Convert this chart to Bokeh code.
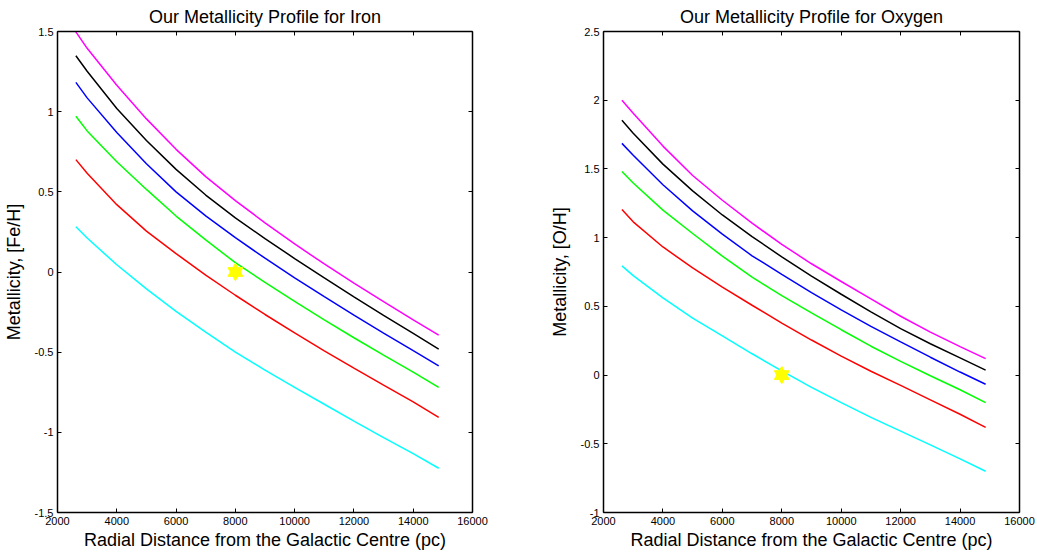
from bokeh.plotting import figure
from bokeh.models import Range1d, LinearAxis, FixedTicker
from bokeh.layouts import row
from bokeh.embed import file_html
from bokeh.resources import INLINE

# ---------------- data ----------------
radius_pc = [2620, 3000, 4000, 5000, 6000, 7000, 8000, 9000,
             10000, 11000, 12000, 13000, 14000, 14860]

fe_magenta = [1.498, 1.395, 1.165, 0.955, 0.765, 0.595, 0.445, 0.307,
              0.175, 0.050, -0.070, -0.185, -0.298, -0.394]
fe_black = [1.349, 1.252, 1.020, 0.820, 0.640, 0.480, 0.338, 0.208,
            0.084, -0.036, -0.155, -0.270, -0.383, -0.481]
fe_blue = [1.183, 1.086, 0.870, 0.675, 0.500, 0.350, 0.214, 0.086,
           -0.036, -0.154, -0.269, -0.381, -0.491, -0.585]
fe_green = [0.971, 0.880, 0.688, 0.515, 0.349, 0.200, 0.058, -0.065,
            -0.183, -0.298, -0.410, -0.518, -0.624, -0.720]
fe_red = [0.701, 0.616, 0.420, 0.255, 0.115, -0.020, -0.145, -0.265,
          -0.380, -0.492, -0.600, -0.706, -0.810, -0.907]
fe_cyan = [0.282, 0.212, 0.045, -0.105, -0.245, -0.375, -0.500, -0.612,
           -0.720, -0.825, -0.930, -1.033, -1.133, -1.224]

o_magenta = [2.000, 1.905, 1.666, 1.452, 1.272, 1.105, 0.951, 0.810,
             0.681, 0.555, 0.428, 0.313, 0.207, 0.120]
o_black = [1.854, 1.760, 1.535, 1.340, 1.165, 1.008, 0.860, 0.720,
           0.588, 0.460, 0.338, 0.228, 0.125, 0.036]
o_blue = [1.686, 1.600, 1.385, 1.195, 1.025, 0.868, 0.733, 0.600,
          0.474, 0.354, 0.241, 0.130, 0.022, -0.067]
o_green = [1.481, 1.398, 1.200, 1.030, 0.865, 0.712, 0.578, 0.453,
           0.330, 0.210, 0.100, -0.005, -0.107, -0.200]
o_red = [1.204, 1.115, 0.932, 0.780, 0.640, 0.508, 0.378, 0.255,
         0.138, 0.028, -0.075, -0.180, -0.285, -0.380]
o_cyan = [0.795, 0.724, 0.562, 0.415, 0.285, 0.155, 0.030, -0.090,
          -0.200, -0.308, -0.408, -0.508, -0.610, -0.700]

sun_r = [8000]
sun_z = [0]

x_ticks = [2000, 4000, 6000, 8000, 10000, 12000, 14000, 16000]
x_tick_labels = ["2000", "4000", "6000", "8000", "10000", "12000", "14000", "16000"]
fe_ticks = [-1.5, -1, -0.5, 0, 0.5, 1, 1.5]
fe_tick_labels = ["-1.5", "-1", "-0.5", "0", "0.5", "1", "1.5"]
o_ticks = [-1, -0.5, 0, 0.5, 1, 1.5, 2, 2.5]
o_tick_labels = ["-1", "-0.5", "0", "0.5", "1", "1.5", "2", "2.5"]

curve_colors = ["#ff00ff", "#000000", "#0000ff", "#00ff00", "#ff0000", "#00ffff"]
FONT = "Liberation Sans"


def style_main_axis(ax, ticks, labels):
    ax.ticker = FixedTicker(ticks=ticks)
    ax.major_tick_in = 4
    ax.major_tick_out = 0
    ax.minor_tick_line_color = None
    ax.axis_line_width = 1.5
    ax.axis_line_color = "black"
    ax.major_tick_line_color = "black"
    ax.major_tick_line_width = 1
    ax.major_label_overrides = {t: l for t, l in zip(ticks, labels)}
    ax.major_label_text_font = FONT
    ax.major_label_text_font_size = "11px"
    ax.major_label_text_color = "black"
    ax.major_label_standoff = 4
    ax.axis_label_text_font = FONT
    ax.axis_label_text_font_size = "18px"
    ax.axis_label_text_font_style = "normal"
    ax.axis_label_text_color = "black"


def mirror_axis(ticks):
    # box axis: tick marks only (as minor ticks, so no labels are drawn)
    ax = LinearAxis(ticker=FixedTicker(ticks=[], minor_ticks=ticks))
    ax.axis_line_width = 1.5
    ax.axis_line_color = "black"
    ax.major_tick_line_color = None
    ax.minor_tick_in = 4
    ax.minor_tick_out = 0
    ax.minor_tick_line_color = "black"
    ax.minor_tick_line_width = 1
    ax.major_label_standoff = 0
    return ax


def make_panel(title, ylabel, y_lo, y_hi, yticks, ylabels, series, width, border_right):
    p = figure(width=width, height=555, output_backend="svg", toolbar_location=None,
               x_range=Range1d(2000, 16000), y_range=Range1d(y_lo, y_hi),
               min_border_left=57, min_border_right=border_right,
               min_border_top=30, min_border_bottom=43,
               x_axis_label="Radial Distance from the Galactic Centre (pc)",
               y_axis_label=ylabel)
    p.title.text = title
    p.title.text_font = FONT
    p.title.text_font_size = "18px"
    p.title.text_font_style = "normal"
    p.title.text_color = "black"
    p.title.align = "center"
    p.title.standoff = 9
    p.background_fill_color = "white"
    p.border_fill_color = "white"
    p.outline_line_color = None
    p.xgrid.visible = False
    p.ygrid.visible = False

    for ax in p.xaxis:
        style_main_axis(ax, x_ticks, x_tick_labels)
        ax.axis_label_standoff = 2
    for ax in p.yaxis:
        style_main_axis(ax, yticks, ylabels)
        ax.axis_label_standoff = 8

    p.add_layout(mirror_axis(x_ticks), "above")
    p.add_layout(mirror_axis(yticks), "right")

    for ys, c in zip(series, curve_colors):
        p.line(radius_pc, ys, line_color=c, line_width=1.5)

    p.scatter(sun_r, sun_z, marker="triangle", size=15,
              fill_color="#ffff00", line_color="#ffff00")
    p.scatter(sun_r, sun_z, marker="inverted_triangle", size=15,
              fill_color="#ffff00", line_color="#ffff00")
    return p


p1 = make_panel("Our Metallicity Profile for Iron", "Metallicity, [Fe/H]",
                -1.5, 1.5, fe_ticks, fe_tick_labels,
                [fe_magenta, fe_black, fe_blue, fe_green, fe_red, fe_cyan],
                546, 74)
p2 = make_panel("Our Metallicity Profile for Oxygen", "Metallicity, [O/H]",
                -1, 2.5, o_ticks, o_tick_labels,
                [o_magenta, o_black, o_blue, o_green, o_red, o_cyan],
                491, 18)

layout = row(p1, p2)
open("out.html", "w").write(file_html(layout, INLINE))
